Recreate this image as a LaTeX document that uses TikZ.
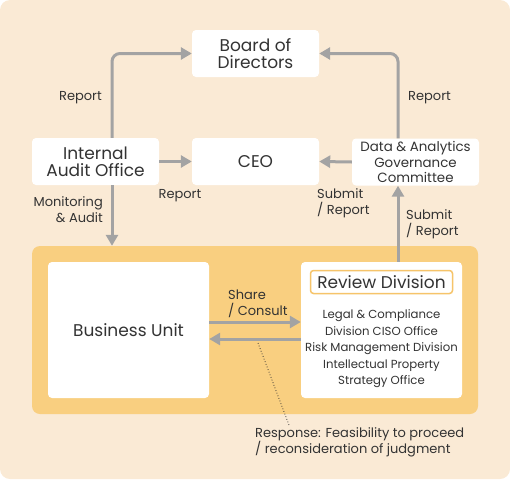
\documentclass[tikz,border=0pt]{standalone}
\usepackage{fontspec}
\setmainfont{Poppins}
\usetikzlibrary{arrows.meta}

\definecolor{bgpeach}{HTML}{FAEAD5}
\definecolor{panelorange}{HTML}{F9CF80}
\definecolor{titleorange}{HTML}{F6C46A}
\definecolor{arrgray}{HTML}{A3A3A3}
\definecolor{txtgray}{HTML}{333333}

\begin{document}
\begin{tikzpicture}[x=1pt,y=-1pt,
    box/.style={fill=white,rounded corners=4pt,minimum width=127pt,minimum height=47pt,
        inner sep=0pt,align=center,text=txtgray},
    flow/.style={draw=arrgray,line width=3pt,-{Triangle[length=11pt,width=12pt]}},
    lbl/.style={text=txtgray,inner sep=0pt,font=\fontsize{13}{16}\selectfont}]

    % background
    \useasboundingbox (0,0) rectangle (510,479);
    \fill[bgpeach,rounded corners=10pt] (0,0) rectangle (510,479);

    % orange panel
    \node[fill=panelorange,rounded corners=8pt,minimum width=446pt,minimum height=168pt,inner sep=0pt]
        (panel) at (255,330) {};

    % boxes
    \node[box,font=\fontsize{17}{17}\selectfont] (board) at (255.5,53.5) {Board of\\Directors};
    \node[box,font=\fontsize{17}{17}\selectfont] (audit) at (95.5,161.5) {Internal\\Audit Office};
    \node[box,font=\fontsize{17}{17}\selectfont] (ceo) at (255.5,161.5) {CEO};
    \node[box,font=\fontsize{13.4}{15.5}\selectfont] (dagc) at (415.5,162) {Data \& Analytics\\Governance\\Committee};
    \node[box,minimum width=161pt,minimum height=136pt,font=\fontsize{17}{17}\selectfont]
        (bu) at (128.5,330) {Business Unit};
    \node[box,minimum width=161pt,minimum height=136pt] (review) at (381.5,330) {};
    \node[draw=titleorange,line width=1.5pt,fill=white,rounded corners=3pt,minimum width=142pt,
        minimum height=23pt,inner sep=0pt,text=txtgray,font=\fontsize{17}{17}\selectfont]
        (rtitle) at (381.5,282) {Review Division};
    \node[text=txtgray,align=center,inner sep=0pt,font=\fontsize{11.7}{16.5}\selectfont]
        (rlist) at (381.5,349) {Legal \& Compliance\\Division CISO Office\\Risk Management Division\\Intellectual Property\\Strategy Office};

    % arrows
    \draw[flow,rounded corners=8pt] (112,0 |- audit.north) |- (board.west);
    \draw[flow,rounded corners=8pt] (398,0 |- dagc.north) |- (board.east);
    \draw[flow] (audit.east) -- (ceo.west);
    \draw[flow] (dagc.west) -- (ceo.east);
    \draw[flow] (112,0 |- audit.south) -- (112,0 |- panel.north);
    \draw[flow] (398,0 |- review.north) -- (398,0 |- dagc.south);
    \draw[flow] ([yshift=8pt]bu.east) -- ([yshift=8pt]review.west);
    \draw[flow] ([yshift=-9pt]review.west) -- ([yshift=-9pt]bu.east);

    % leader
    \coordinate (tick) at (258,343);
    \coordinate (tail) at (289,425);
    \draw[dotted,line width=0.8pt,txtgray] (tick) -- (tail);

    % labels
    \node[lbl] at (80.5,98) {Report};
    \node[lbl] at (180,196) {Report};
    \node[lbl] at (429.5,98) {Report};
    \node[lbl,align=right,anchor=east] at (103,210) {Monitoring\\\& Audit};
    \node[lbl,align=left,anchor=west] at (317,203) {Submit\\/ Report};
    \node[lbl,align=left,anchor=west] at (406,224) {Submit\\/ Report};
    \node[lbl,align=left,anchor=west] at (228,304) {Share\\/ Consult};
    \node[lbl,align=left,anchor=west] at (255,442) {Response: Feasibility to proceed\\/ reconsideration of judgment};

\end{tikzpicture}
\end{document}
